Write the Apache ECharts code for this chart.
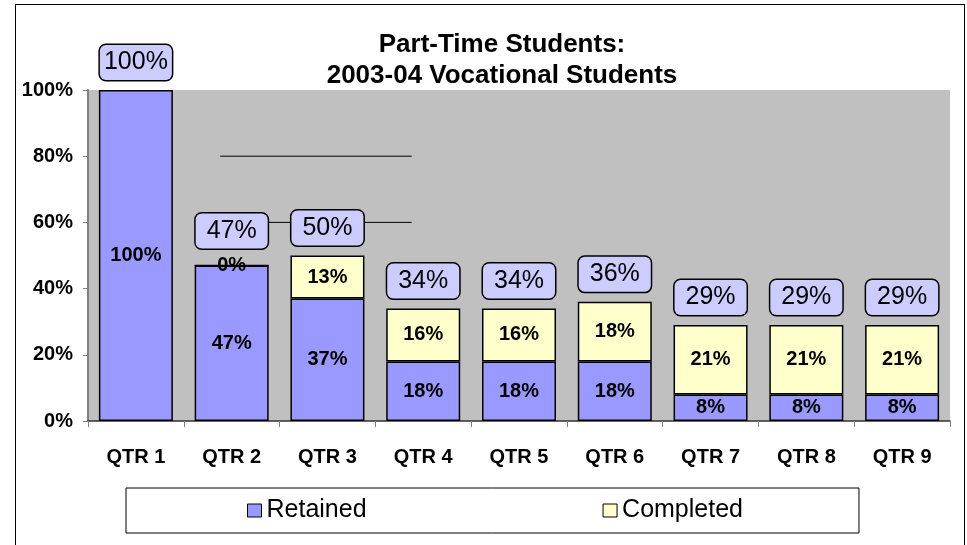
<!DOCTYPE html>
<html>
<head>
<meta charset="utf-8">
<script src="https://cdn.jsdelivr.net/npm/echarts@6/dist/echarts.min.js"></script>
<style>
  html, body { margin: 0; padding: 0; background: #fff; }
  #frame { position: absolute; left: 15px; top: 4px; width: 950px; height: 600px; border: 1px solid #000; box-sizing: border-box; }
  #chart { position: absolute; left: 0; top: 0; width: 967px; height: 545px; }
</style>
</head>
<body>
<div id="frame"></div>
<div id="chart"></div>
<script>
const categories = ['QTR 1', 'QTR 2', 'QTR 3', 'QTR 4', 'QTR 5', 'QTR 6', 'QTR 7', 'QTR 8', 'QTR 9'];
const retained = [100, 47, 37, 18, 18, 18, 8, 8, 8];
const completed = [null, 0, 13, 16, 16, 18, 21, 21, 21];
const totals = [100, 47, 50, 34, 34, 36, 29, 29, 29];
const yTicks = [0, 20, 40, 60, 80, 100];
const guideLevels = [80, 60];
const guideSpan = [1.38, 3.38];

const FONT = '"Liberation Sans", Arial, sans-serif';
const chart = echarts.init(document.getElementById('chart'), null, { renderer: 'canvas' });

const innerLabel = {
  show: true,
  position: 'inside',
  color: '#000',
  fontFamily: FONT,
  fontWeight: 'bold',
  fontSize: 20,
  formatter: p => (p.value == null || isNaN(p.value)) ? '' : p.value + '%'
};

const guideSeries = guideLevels.map(level => ({
  type: 'line',
  xAxisIndex: 1,
  yAxisIndex: 0,
  z: 1,
  silent: true,
  showSymbol: false,
  symbol: 'none',
  lineStyle: { color: '#000', width: 1 },
  data: guideSpan.map(x => [x, level])
}));

chart.setOption({
  animation: false,
  backgroundColor: 'transparent',
  title: {
    text: 'Part-Time Students:\n2003-04 Vocational Students',
    left: 497,
    top: 24,
    textAlign: 'center',
    textStyle: { fontFamily: FONT, fontWeight: 'bold', fontSize: 26, lineHeight: 31, color: '#000' }
  },
  legend: {
    data: ['Retained', 'Completed'],
    left: 126,
    top: 488,
    orient: 'horizontal',
    icon: 'rect',
    itemWidth: 14,
    itemHeight: 13,
    itemGap: 236,
    padding: [10, 116, 10, 121],
    borderColor: '#000',
    borderWidth: 1,
    backgroundColor: '#fff',
    itemStyle: { borderColor: '#000', borderWidth: 1 },
    textStyle: { fontFamily: FONT, fontSize: 25, lineHeight: 25, color: '#000' }
  },
  grid: {
    left: 88, right: 17, top: 90, bottom: 124,
    show: true,
    backgroundColor: '#C0C0C0',
    borderWidth: 0
  },
  xAxis: [
    {
      type: 'category',
      data: categories,
      axisLine: { show: true, lineStyle: { color: '#333', width: 1.5 } },
      axisTick: { show: true, length: 6, lineStyle: { color: '#808080' } },
      axisLabel: { margin: 26, color: '#000', fontFamily: FONT, fontWeight: 'bold', fontSize: 20, interval: 0 },
      splitLine: { show: false }
    },
    {
      type: 'value',
      min: 0,
      max: categories.length,
      show: false
    }
  ],
  yAxis: {
    type: 'value',
    min: yTicks[0],
    max: yTicks[yTicks.length - 1],
    interval: yTicks[1] - yTicks[0],
    axisLine: { show: true, lineStyle: { color: '#808080', width: 2 } },
    axisTick: { show: true, length: 5, lineStyle: { color: '#808080' } },
    axisLabel: { margin: 15, color: '#000', fontFamily: FONT, fontWeight: 'bold', fontSize: 20, formatter: '{value}%' },
    splitLine: { show: false }
  },
  series: [
    ...guideSeries,
    {
      name: 'Retained',
      type: 'bar',
      stack: 'qtr',
      barWidth: 74,
      barGap: '-100%',
      z: 2,
      itemStyle: { color: '#9999FF', borderColor: '#000', borderWidth: 1.5 },
      label: innerLabel,
      data: retained
    },
    {
      name: 'Completed',
      type: 'bar',
      stack: 'qtr',
      barWidth: 74,
      barGap: '-100%',
      z: 2,
      itemStyle: { color: '#FFFFCC', borderColor: '#000', borderWidth: 1.5 },
      label: innerLabel,
      data: completed
    },
    {
      name: 'Total',
      type: 'bar',
      barWidth: 74,
      barGap: '-100%',
      z: 3,
      silent: true,
      itemStyle: { color: 'rgba(0,0,0,0)', borderWidth: 0 },
      label: {
        show: true,
        position: 'top',
        distance: 10,
        formatter: '{c}%',
        color: '#000',
        fontFamily: FONT,
        fontSize: 25,
        backgroundColor: '#CCCCFF',
        borderColor: '#000',
        borderWidth: 1.5,
        borderRadius: 6,
        width: 72,
        height: 35,
        lineHeight: 35,
        align: 'center',
        padding: 0
      },
      data: totals.map((v, i) => i === 1 ? { value: v, label: { distance: 17 } } : v)
    }
  ]
});
</script>
</body>
</html>
